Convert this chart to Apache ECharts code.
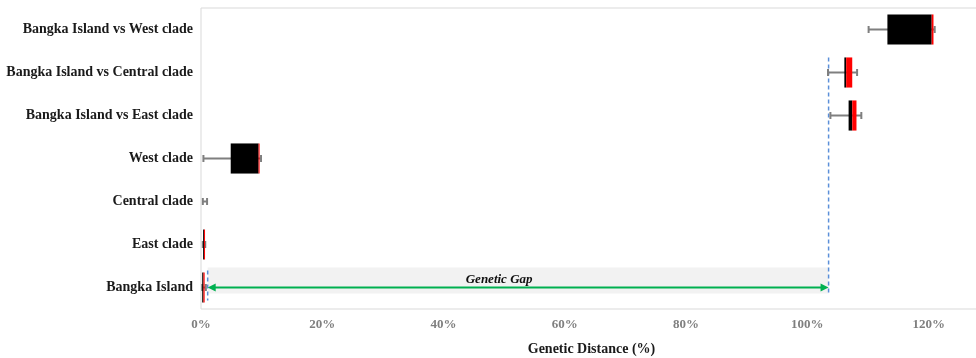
<!DOCTYPE html>
<html>
<head>
<meta charset="utf-8">
<script src="https://cdn.jsdelivr.net/npm/echarts@6/dist/echarts.min.js"></script>
<style>html,body{margin:0;padding:0;background:#fff;}#main{width:976px;height:358px;}</style>
</head>
<body>
<div id="main"></div>
<script>
// Categories listed bottom to top
var categories = ['Bangka Island', 'East clade', 'Central clade', 'West clade',
  'Bangka Island vs East clade', 'Bangka Island vs Central clade', 'Bangka Island vs West clade'];
// Genetic distance (%) values
var minVals    = [0.2, 0.3, 0.3, 0.4, 103.8, 103.4, 110.1];
var q1Vals     = [0.2, 0.35, 0.65, 4.9, 106.8, 106.1, 113.2];
var medianVals = [0.4, 0.5, 0.65, 9.5, 107.4, 106.4, 120.5];
var q3Vals     = [0.6, 0.65, 0.65, 9.6, 108.1, 107.4, 120.8];
var maxVals    = [0.8, 0.7, 1.0, 9.9, 108.9, 108.2, 121.0];
var xTicks = [0, 20, 40, 60, 80, 100, 120];
// Genetic gap annotation
var gapStart = 1.1;
var gapEnd = 103.5;
var gapRow = 'Bangka Island';
var gapTopRow = 'Bangka Island vs Central clade';
var gapLabel = 'Genetic Gap';

var boxData = categories.map(function (c, i) {
  return [i, minVals[i], q1Vals[i], medianVals[i], q3Vals[i], maxVals[i]];
});

var chart = echarts.init(document.getElementById('main'));
var serif = '"Liberation Serif", "Times New Roman", serif';

function renderBox(params, api) {
  var yi = api.value(0);
  var pMin = api.coord([api.value(1), yi]);
  var pQ1 = api.coord([api.value(2), yi]);
  var pMed = api.coord([api.value(3), yi]);
  var pQ3 = api.coord([api.value(4), yi]);
  var pMax = api.coord([api.value(5), yi]);
  var h = api.size([0, 1])[1] * 0.7;
  var cy = pMin[1];
  var gray = '#7f7f7f';
  var children = [
    {type: 'line', shape: {x1: pMin[0], y1: cy, x2: pMax[0], y2: cy}, style: {stroke: gray, lineWidth: 2}},
    {type: 'line', shape: {x1: pMin[0], y1: cy - 3.5, x2: pMin[0], y2: cy + 3.5}, style: {stroke: gray, lineWidth: 2}},
    {type: 'line', shape: {x1: pMax[0], y1: cy - 3.5, x2: pMax[0], y2: cy + 3.5}, style: {stroke: gray, lineWidth: 2}}
  ];
  var wB = pMed[0] - pQ1[0];
  if (wB > 0) {
    children.push({type: 'rect', shape: {x: pQ1[0], y: cy - h / 2, width: Math.max(wB, 1), height: h}, style: {fill: '#000000'}});
  }
  var wR = pQ3[0] - pMed[0];
  if (wR > 0) {
    children.push({type: 'rect', shape: {x: pMed[0], y: cy - h / 2, width: Math.max(wR, 1), height: h}, style: {fill: '#ff0000'}});
  }
  return {type: 'group', children: children};
}

function renderGap(params, api) {
  var row = api.value(2);
  var topRow = api.value(3);
  var pS = api.coord([api.value(0), row]);
  var pE = api.coord([api.value(1), row]);
  var pTop = api.coord([api.value(1), topRow]);
  var h = api.size([0, 1])[1];
  var cy = pS[1];
  var green = '#00b050';
  var blue = '#5b8fd9';
  var aL = 8, aW = 4;
  return {type: 'group', children: [
    {type: 'rect', shape: {x: pS[0], y: cy - 20, width: pE[0] - pS[0], height: 26}, style: {fill: '#f2f2f2'}},
    {type: 'line', shape: {x1: pS[0], y1: cy - 17, x2: pS[0], y2: cy + 13}, style: {stroke: blue, lineWidth: 1.5, lineDash: [4, 3]}},
    {type: 'line', shape: {x1: pE[0], y1: pTop[1] - h * 0.35, x2: pE[0], y2: cy + 7}, style: {stroke: blue, lineWidth: 1.5, lineDash: [4, 3]}},
    {type: 'line', shape: {x1: pS[0] + aL - 1, y1: cy, x2: pE[0] - aL + 1, y2: cy}, style: {stroke: green, lineWidth: 2}},
    {type: 'polygon', shape: {points: [[pS[0], cy], [pS[0] + aL, cy - aW], [pS[0] + aL, cy + aW]]}, style: {fill: green}},
    {type: 'polygon', shape: {points: [[pE[0], cy], [pE[0] - aL, cy - aW], [pE[0] - aL, cy + aW]]}, style: {fill: green}},
    {type: 'text', style: {text: gapLabel, x: (pS[0] + pE[0]) / 2 - 19, y: cy - 8, align: 'center', verticalAlign: 'middle',
      font: 'italic bold 13px ' + serif, fill: '#111111'}}
  ]};
}

chart.setOption({
  animation: false,
  backgroundColor: '#ffffff',
  grid: {left: 201, right: -6, top: 8, bottom: 49, show: true, borderColor: '#d9d9d9', borderWidth: 1,
    containLabel: false, outerBoundsMode: 'none'},
  xAxis: {
    type: 'value', min: 0, max: 128.8, interval: 20,
    name: 'Genetic Distance (%)', nameLocation: 'middle', nameGap: 33,
    nameTextStyle: {fontFamily: serif, fontWeight: 'bold', fontSize: 14, color: '#1a1a1a'},
    axisLine: {show: false}, axisTick: {show: false}, splitLine: {show: false},
    axisLabel: {
      showMaxLabel: false, margin: 9,
      fontFamily: serif, fontWeight: 'bold', fontSize: 13, color: '#7f7f7f',
      formatter: function (v) { return xTicks.indexOf(v) >= 0 ? v + '%' : ''; }
    }
  },
  yAxis: {
    type: 'category', data: categories,
    axisLine: {show: false}, axisTick: {show: false}, splitLine: {show: false},
    axisLabel: {margin: 8, padding: [3, 0, 0, 0], fontFamily: serif, fontWeight: 'bold', fontSize: 14, color: '#1a1a1a'}
  },
  series: [
    {
      type: 'custom', name: 'gap', renderItem: renderGap, z: 1,
      encode: {x: [0, 1], y: [2, 3]},
      data: [[gapStart, gapEnd, categories.indexOf(gapRow), categories.indexOf(gapTopRow)]]
    },
    {
      type: 'custom', name: 'distance', renderItem: renderBox, z: 2,
      encode: {y: 0, x: [1, 2, 3, 4, 5]},
      data: boxData
    }
  ]
});
</script>
</body>
</html>
